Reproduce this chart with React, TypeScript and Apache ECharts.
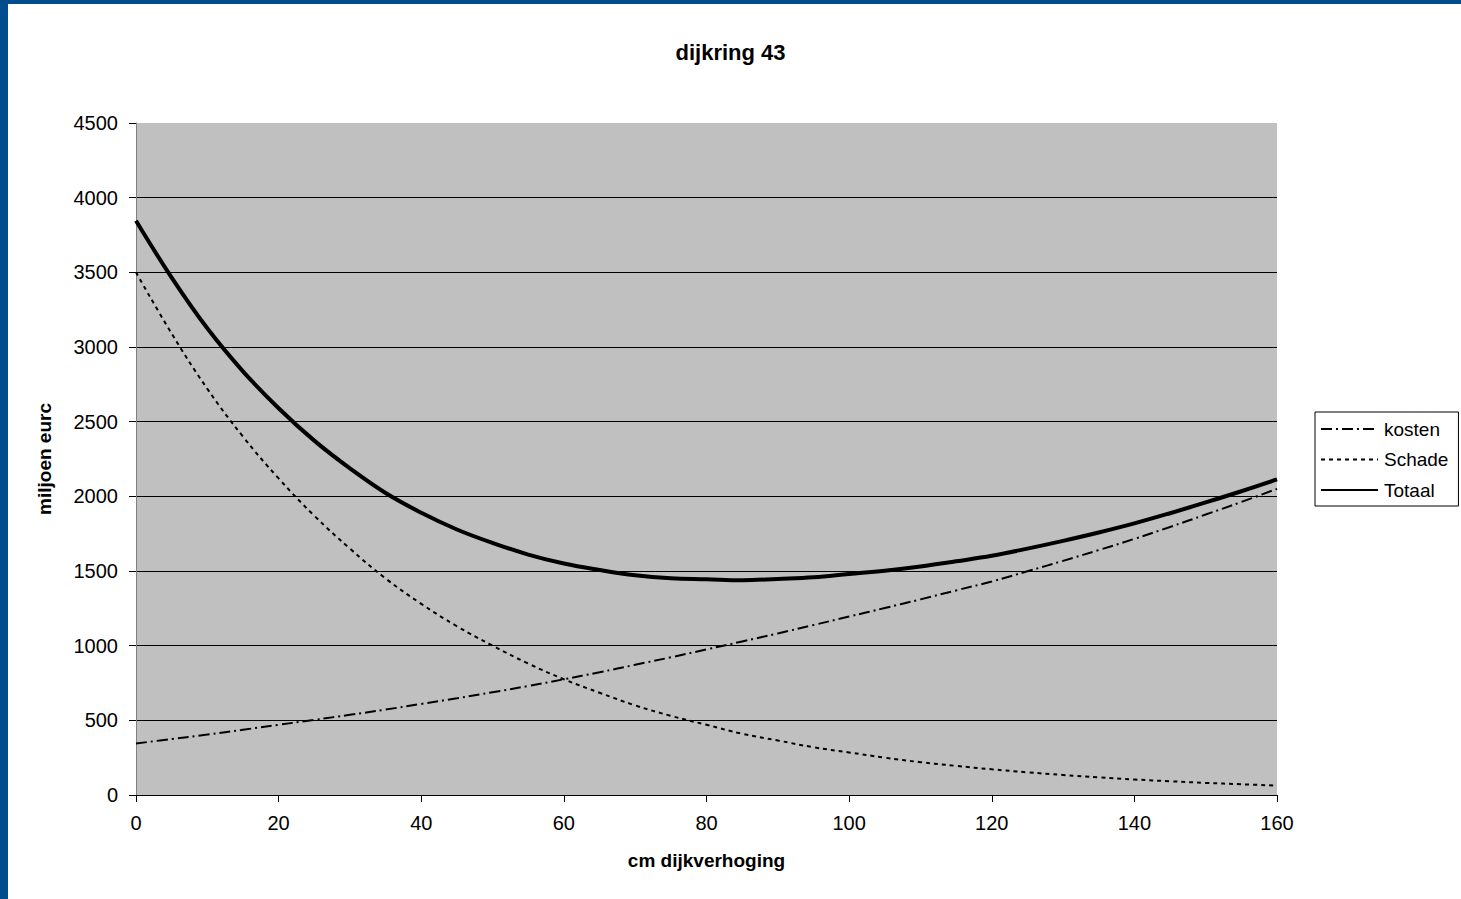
import React, { useEffect, useRef } from "react";
import * as echarts from "echarts";

const cm = [0, 5, 10, 15, 20, 25, 30, 35, 40, 45, 50, 55, 60, 65, 70, 75, 80, 85, 90, 95, 100, 105, 110, 115, 120, 125, 130, 135, 140, 145, 150, 155, 160];
const kosten = [345, 375, 405, 437, 470, 503, 537, 572, 610, 648, 688, 730, 775, 822, 872, 922, 975, 1028, 1082, 1138, 1195, 1252, 1310, 1370, 1430, 1498, 1568, 1640, 1715, 1795, 1878, 1962, 2050];
const schade = [3500, 3090, 2720, 2400, 2120, 1870, 1650, 1450, 1280, 1130, 1000, 880, 775, 685, 600, 530, 470, 410, 365, 320, 285, 250, 220, 195, 172, 152, 134, 118, 104, 92, 81, 72, 63];
const totaal = [3845, 3465, 3125, 2837, 2590, 2373, 2187, 2022, 1890, 1778, 1688, 1610, 1550, 1507, 1472, 1452, 1445, 1438, 1447, 1458, 1480, 1502, 1530, 1565, 1602, 1650, 1702, 1758, 1819, 1887, 1959, 2034, 2113];
const seriesNames = ["kosten", "Schade", "Totaal"];

const FONT = "'Liberation Sans', Arial, sans-serif";

export default function App() {
  const ref = useRef<HTMLDivElement>(null);
  useEffect(() => {
    if (!ref.current) return;
    const chart = echarts.init(ref.current, null, { renderer: "svg" });
    const pairs = (ys: number[]) => cm.map((x, i) => [x, ys[i]]);
    chart.setOption({
      animation: false,
      backgroundColor: "#ffffff",
      textStyle: { fontFamily: FONT },
      title: {
        text: "dijkring 43",
        left: "center",
        top: 36,
        textStyle: { fontFamily: FONT, fontSize: 22, fontWeight: "bold", color: "#000" },
      },
      graphic: [
        { type: "rect", left: 0, top: 0, shape: { width: 8, height: 899 }, style: { fill: "#004C8C" } },
        { type: "rect", left: 0, top: 0, shape: { width: 1461, height: 4 }, style: { fill: "#004C8C" } },
      ],
      legend: {
        orient: "vertical",
        left: 1315,
        top: 412,
        padding: [7, 10, 6, 5],
        itemWidth: 57,
        itemHeight: 14,
        itemGap: 10.5,
        borderColor: "#000",
        borderWidth: 1,
        backgroundColor: "#fff",
        itemStyle: { opacity: 0 },
        textStyle: { fontFamily: FONT, fontSize: 19, color: "#000", lineHeight: 20, padding: [0, 0, 0, 1] },
        data: seriesNames,
      },
      grid: { left: 136, right: 184, top: 123, bottom: 104, show: true, backgroundColor: "#C0C0C0", borderWidth: 0 },
      xAxis: {
        type: "value",
        min: 0,
        max: 160,
        interval: 20,
        name: "cm dijkverhoging",
        nameLocation: "middle",
        nameGap: 56,
        nameTextStyle: { fontFamily: FONT, fontSize: 19, fontWeight: "bold", color: "#000" },
        axisLine: { show: true, lineStyle: { color: "#000", width: 1 } },
        axisTick: { show: true, inside: false, length: 7, lineStyle: { color: "#000" } },
        axisLabel: { fontFamily: FONT, fontSize: 20, color: "#000", margin: 18, formatter: (v: number) => String(v) },
        splitLine: { show: false },
      },
      yAxis: {
        type: "value",
        min: 0,
        max: 4500,
        interval: 500,
        name: "miljoen eurc",
        nameLocation: "middle",
        nameGap: 82,
        nameRotate: 90,
        nameTextStyle: { fontFamily: FONT, fontSize: 19, fontWeight: "bold", color: "#000" },
        axisLine: { show: true, lineStyle: { color: "#808080", width: 1 } },
        axisTick: { show: true, inside: false, length: 7, lineStyle: { color: "#000" } },
        axisLabel: { fontFamily: FONT, fontSize: 20, color: "#000", margin: 18, formatter: (v: number) => String(v) },
        splitLine: { show: true, showMaxLine: false, lineStyle: { color: "#000", width: 1 } },
      },
      series: [
        {
          name: "kosten",
          type: "line",
          data: pairs(kosten),
          symbol: "none",
          smooth: 0.4,
          lineStyle: { color: "#000", width: 2, type: [11, 4, 2, 4] },
          itemStyle: { color: "#000" },
        },
        {
          name: "Schade",
          type: "line",
          data: pairs(schade),
          symbol: "none",
          smooth: 0.4,
          lineStyle: { color: "#000", width: 2, type: [4, 4] },
          itemStyle: { color: "#000" },
        },
        {
          name: "Totaal",
          type: "line",
          data: pairs(totaal),
          symbol: "none",
          smooth: 0.4,
          lineStyle: { color: "#000", width: 4, type: "solid" },
          itemStyle: { color: "#000" },
        },
      ],
    });
    return () => chart.dispose();
  }, []);
  return (
    <div
      ref={ref}
      style={{ position: "absolute", left: 0, top: 0, width: 1461, height: 899, background: "#fff" }}
    />
  );
}
